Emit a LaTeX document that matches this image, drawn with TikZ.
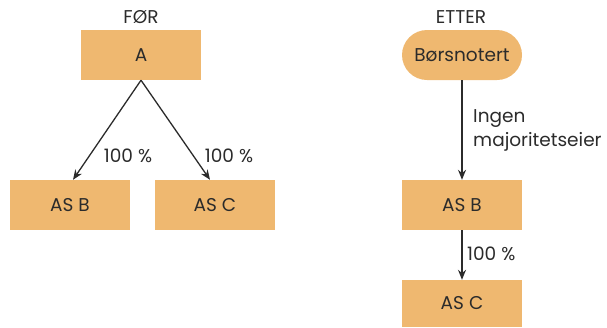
\documentclass[tikz,border=0pt]{standalone}
\usepackage{fontspec}
\setmainfont{Poppins}
\usetikzlibrary{arrows.meta}
\definecolor{boxfill}{HTML}{EFB870}
\definecolor{ink}{HTML}{2B2B2B}
\begin{document}
\begin{tikzpicture}[x=1pt,y=-1pt,
  every node/.style={text=ink,font=\fontsize{18.5}{24}\selectfont},
  box/.style={fill=boxfill,draw=none,minimum width=120pt,minimum height=50pt,inner sep=0pt},
  pill/.style={box,rounded corners=25pt},
  link/.style={draw=ink,line width=1.3pt,-{Stealth[length=10pt,width=8pt]}},
  tag/.style={inner sep=0pt}]
\useasboundingbox (0,0) rectangle (607,327);

% before
\node[tag] (before) at (141,17) {FØR};
\node[box] (a) at (141,55) {A};
\node[box] (asb1) at (70,205) {AS B};
\node[box] (asc1) at (215,205) {AS C};
\draw[link] (a.south) -- ([xshift=3pt]asb1.north);
\draw[link] (a.south) -- ([xshift=-5pt]asc1.north);
\node[tag] (p1) at (128,156) {100 \%};
\node[tag] (p2) at (229,156) {100 \%};

% after
\node[tag] (after) at (461,17) {ETTER};
\node[pill] (listed) at (462,55) {Børsnotert};
\node[box] (asb2) at (462,205) {AS B};
\node[box,minimum height=47pt] (asc2) at (462,303.5) {AS C};
\draw[link] (listed.south) -- (asb2.north);
\draw[link] (asb2.south) -- (asc2.north);
\node[tag,anchor=west,align=left] (none) at (473,130) {Ingen\\majoritetseier};
\node[tag,anchor=west] (p3) at (467,254) {100 \%};
\end{tikzpicture}
\end{document}
